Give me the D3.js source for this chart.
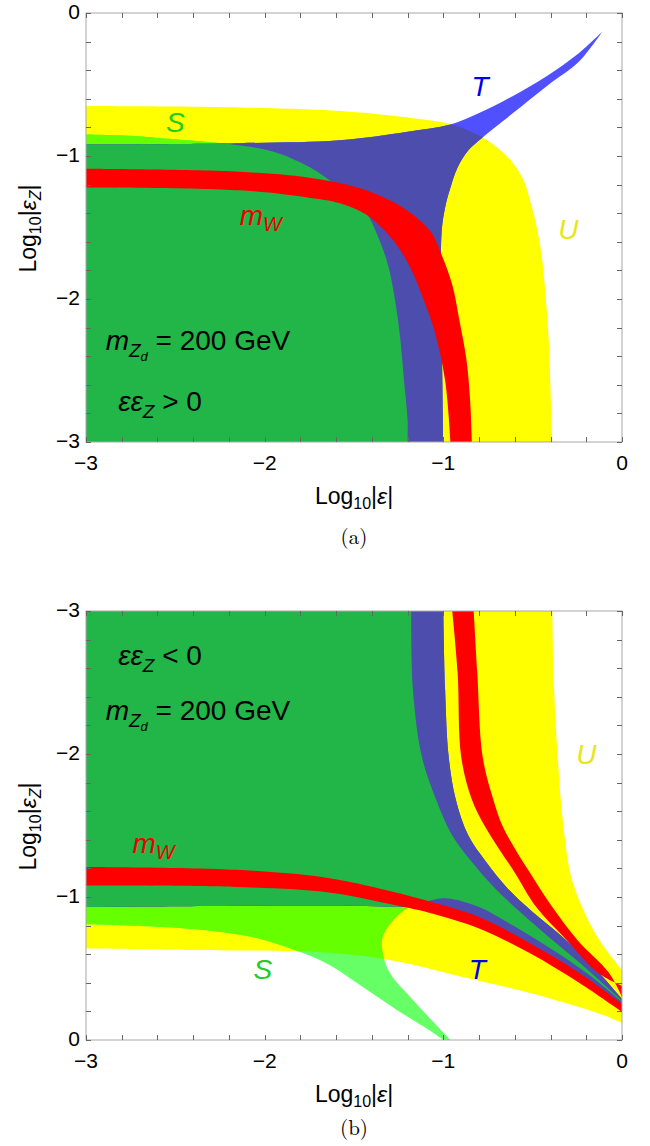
<!DOCTYPE html>
<html><head><meta charset="utf-8">
<script src="https://cdn.jsdelivr.net/npm/d3@7"></script>
<style>body{margin:0;background:#fff}</style></head>
<body><script>
// ---------- DATA (log10 |eps|, log10 |eps_Z|) ----------
const xTicks = [-3, -2, -1, 0];
const xTickLabels = ['\u22123', '\u22122', '\u22121', '0'];
const yTicksA = [0, -1, -2, -3];
const yTickLabelsA = ['0', '\u22121', '\u22122', '\u22123'];
const yTicksB = [-3, -2, -1, 0];
const yTickLabelsB = ['\u22123', '\u22122', '\u22121', '0'];

// Panel (a): eps*epsZ > 0
const uCurveA = [[-3,-0.65],[-2.14,-0.66],[-1.52,-0.69],[-1.08,-0.75],[-0.95,-0.78],[-0.78,-0.87],[-0.68,-0.96],[-0.61,-1.05],[-0.55,-1.17],[-0.515,-1.31],[-0.48,-1.48],[-0.45,-1.69],[-0.43,-1.94],[-0.41,-2.29],[-0.40,-2.64],[-0.39,-3]];
const sCurveA = [[-3,-0.85],[-2.73,-0.86],[-2.54,-0.88],[-2.18,-0.92],[-1.95,-0.97],[-1.76,-1.07],[-1.67,-1.14],[-1.55,-1.26],[-1.43,-1.40],[-1.37,-1.55],[-1.31,-1.76],[-1.27,-2.01],[-1.24,-2.29],[-1.22,-2.57],[-1.20,-2.85],[-1.20,-3]];
const tUpperA = [[-3,-0.92],[-2.14,-0.91],[-1.58,-0.89],[-1.20,-0.83],[-0.96,-0.78],[-0.80,-0.70],[-0.61,-0.58],[-0.42,-0.44],[-0.24,-0.28],[-0.11,-0.13]];
const tLowerA = [[-0.11,-0.13],[-0.24,-0.34],[-0.42,-0.51],[-0.61,-0.70],[-0.78,-0.87],[-0.86,-0.96],[-0.92,-1.08],[-0.96,-1.22],[-0.99,-1.36],[-1.01,-1.54],[-1.01,-2.0],[-1.0,-3]];
const mwTopA = [[-3,-1.09],[-2.14,-1.11],[-1.76,-1.15],[-1.48,-1.22],[-1.30,-1.31],[-1.17,-1.41],[-1.07,-1.53],[-1.01,-1.69],[-0.95,-1.90],[-0.91,-2.15],[-0.87,-2.43],[-0.85,-2.71],[-0.84,-3]];
const mwBottomA = [[-3,-1.22],[-2.14,-1.24],[-1.76,-1.29],[-1.58,-1.33],[-1.43,-1.41],[-1.33,-1.52],[-1.24,-1.66],[-1.17,-1.82],[-1.13,-1.94],[-1.05,-2.22],[-0.99,-2.57],[-0.96,-3]];

// Panel (b): eps*epsZ < 0
const uRightB = [[-0.39,-3],[-0.38,-2.45],[-0.36,-1.98],[-0.33,-1.52],[-0.28,-1.12],[-0.19,-0.84],[-0.10,-0.65],[0,-0.49]];
const uLowerB = [[0,-0.12],[-0.14,-0.19],[-0.52,-0.33],[-0.89,-0.44],[-1.26,-0.55],[-1.63,-0.61],[-2.44,-0.63],[-3,-0.64]];
const sRightB = [[-1.18,-3],[-1.17,-2.45],[-1.12,-1.98],[-1.04,-1.68],[-0.95,-1.43],[-0.84,-1.245],[-0.71,-1.06],[-0.57,-0.895],[-0.40,-0.71],[-0.20,-0.50],[0,-0.273]];
const sInnerB = [[0,-0.266],[-0.20,-0.47],[-0.40,-0.64],[-0.61,-0.80],[-0.80,-0.93],[-0.98,-0.99],[-1.09,-0.97],[-1.19,-0.93],[-1.28,-0.84],[-1.34,-0.72],[-1.34,-0.61],[-1.30,-0.47],[-1.17,-0.28],[-0.96,0]];
const sLowerB = [[-1.0,0],[-1.08,-0.07],[-1.26,-0.21],[-1.45,-0.37],[-1.63,-0.52],[-1.79,-0.61],[-2.07,-0.72],[-2.44,-0.78],[-3,-0.81]];
const tRightB = [[-1.0,-3],[-0.99,-2.45],[-0.97,-1.98],[-0.93,-1.68],[-0.86,-1.43],[-0.76,-1.245],[-0.64,-1.06],[-0.50,-0.895],[-0.35,-0.74],[-0.18,-0.54],[0,-0.287]];
const tLowerB = [[0,-0.238],[-0.24,-0.45],[-0.52,-0.66],[-0.80,-0.84],[-1.08,-0.93],[-1.19,-0.93],[-1.63,-0.94],[-3,-0.93]];
const mw1LeftB = [[-0.95,-3],[-0.92,-2.57],[-0.90,-1.98],[-0.84,-1.68],[-0.77,-1.50],[-0.69,-1.34],[-0.60,-1.17],[-0.48,-0.93],[-0.31,-0.70],[-0.134,-0.47],[0,-0.378]];
const mw1RightB = [[0,-0.301],[-0.073,-0.47],[-0.25,-0.70],[-0.39,-0.93],[-0.515,-1.17],[-0.60,-1.34],[-0.67,-1.50],[-0.72,-1.68],[-0.78,-1.98],[-0.81,-2.57],[-0.83,-3]];
const mw2TopB = [[-3,-1.21],[-2.16,-1.19],[-1.63,-1.13],[-1.26,-1.03],[-1.08,-0.97],[-0.80,-0.86],[-0.52,-0.68],[-0.24,-0.47],[0,-0.252]];
const mw2BottomB = [[0,-0.196],[-0.24,-0.40],[-0.52,-0.61],[-0.80,-0.78],[-1.08,-0.89],[-1.26,-0.94],[-1.63,-1.03],[-2.16,-1.07],[-3,-1.08]];

// ---------- STYLE ----------
const W = 650, H = 1146;
const FONT = '"Liberation Sans", Arial, Helvetica, sans-serif';
const C = {yellow:'#FFFF00', lime:'#66FF00', lightgreen:'#66FF66', blue:'#5050FF',
           darkblue:'#4D4DAE', darkgreen:'#22B548', red:'#FF0000'};

const svg = d3.select('body').append('svg').attr('width', W).attr('height', H)
  .style('display','block').style('background','#fff');
const defs = svg.append('defs');

function regionPath(segs, sx, sy) {
  const line = d3.line().x(d => sx(d[0])).y(d => sy(d[1])).curve(d3.curveCatmullRom.alpha(0.5));
  let d = '';
  segs.forEach((seg, i) => {
    if (seg.length === 1) { d += (i ? 'L' : 'M') + sx(seg[0][0]) + ',' + sy(seg[0][1]); return; }
    let p = line(seg);
    if (i > 0) p = 'L' + p.slice(1);
    d += p;
  });
  return d + 'Z';
}

function rich(g, x, y, parts, color, anchor) {
  const t = g.append('text').attr('x', x).attr('y', y).attr('fill', color)
    .attr('font-family', FONT).attr('text-anchor', anchor || 'start');
  parts.forEach(p => t.append('tspan').text(p.t).attr('font-size', p.s)
    .attr('font-style', p.i ? 'italic' : 'normal').attr('dy', p.dy || 0));
  return t;
}

function drawPanel(cfg) {
  const L = 86, R = 622;
  const x = d3.scaleLinear().domain([-3, 0]).range([L, R]);
  const y = d3.scaleLinear().domain(cfg.yDomain).range([cfg.top, cfg.bottom]);
  const id = cfg.id;
  const pU = regionPath(cfg.U, x, y), pS = regionPath(cfg.S, x, y), pT = regionPath(cfg.T, x, y);
  defs.append('clipPath').attr('id', id + 'plot').append('rect')
    .attr('x', L).attr('y', cfg.top).attr('width', R - L).attr('height', cfg.bottom - cfg.top);
  defs.append('clipPath').attr('id', id + 'u').append('path').attr('d', pU);
  defs.append('clipPath').attr('id', id + 't').append('path').attr('d', pT);

  const g = svg.append('g').attr('clip-path', `url(#${id}plot)`);
  g.append('path').attr('d', pU).attr('fill', C.yellow);
  g.append('path').attr('d', pS).attr('fill', C.lightgreen);
  g.append('g').attr('clip-path', `url(#${id}u)`).append('path').attr('d', pS).attr('fill', C.lime);
  g.append('path').attr('d', pT).attr('fill', C.blue);
  g.append('g').attr('clip-path', `url(#${id}u)`).append('path').attr('d', pT).attr('fill', C.darkblue);
  g.append('g').attr('clip-path', `url(#${id}u)`).append('g').attr('clip-path', `url(#${id}t)`)
    .append('path').attr('d', pS).attr('fill', C.darkgreen);
  cfg.MW.forEach(b => g.append('path').attr('d', regionPath(b, x, y)).attr('fill', C.red));

  // labels
  const lab = cfg.labels;
  rich(g, x(lab.S[0]), y(lab.S[1]), [{t:'S', s:28, i:1}], '#22CC22', 'middle');
  rich(g, x(lab.T[0]), y(lab.T[1]), [{t:'T', s:28, i:1}], '#0000EE', 'middle');
  rich(g, x(lab.U[0]), y(lab.U[1]), [{t:'U', s:28, i:1}], '#E6E61A', 'middle');
  rich(g, x(lab.MW[0]), y(lab.MW[1]), [{t:'m', s:28, i:1}, {t:'W', s:20, i:1, dy:6}], '#EE0000');
  rich(g, x(lab.MZ[0]), y(lab.MZ[1]), [{t:'m', s:28, i:1}, {t:'Z', s:19, i:1, dy:7},
    {t:'d', s:13, i:1, dy:4}, {t:' = 200 GeV', s:28, dy:-11}], '#000');
  rich(g, x(lab.EE[0]), y(lab.EE[1]), [{t:'\u03B5\u03B5', s:28, i:1}, {t:'Z', s:19, i:1, dy:7},
    {t: cfg.sign, s:28, dy:-7}], '#000');

  // frame & ticks
  svg.append('rect').attr('x', L).attr('y', cfg.top).attr('width', R - L).attr('height', cfg.bottom - cfg.top)
    .attr('fill', 'none').attr('stroke', '#a8a8a8').attr('stroke-width', 1);
  const minor = d3.range(-3, 0.0001, 0.2);
  const tk = svg.append('g').attr('stroke', '#666').attr('stroke-width', 1);
  minor.forEach(v => {
    const px = Math.round(x(v)) + 0.5, py = Math.round(y(v)) + 0.5;
    tk.append('line').attr('x1', px).attr('x2', px).attr('y1', cfg.bottom).attr('y2', cfg.bottom - 5);
    tk.append('line').attr('x1', px).attr('x2', px).attr('y1', cfg.top).attr('y2', cfg.top + 5);
    tk.append('line').attr('y1', py).attr('y2', py).attr('x1', L).attr('x2', L + 5);
    tk.append('line').attr('y1', py).attr('y2', py).attr('x1', R).attr('x2', R - 5);
  });
  xTicks.forEach((v, i) => svg.append('text').attr('x', x(v)).attr('y', cfg.bottom + 28)
    .attr('text-anchor', 'middle').attr('font-family', FONT).attr('font-size', 21).text(xTickLabels[i]));
  cfg.yTicks.forEach((v, i) => svg.append('text').attr('x', 80).attr('y', y(v)).attr('dy', '0.3em')
    .attr('text-anchor', 'end').attr('font-family', FONT).attr('font-size', 21).text(cfg.yTickLabels[i]));

  // axis titles
  rich(svg, (L + R) / 2, cfg.bottom + 62, [{t:'Log', s:23}, {t:'10', s:16, dy:5}, {t:'|', s:23, dy:-5},
    {t:'\u03B5', s:23, i:1}, {t:'|', s:23}], '#000', 'middle');
  const yt = rich(svg, 0, 0, [{t:'Log', s:23}, {t:'10', s:16, dy:5}, {t:'|', s:23, dy:-5},
    {t:'\u03B5', s:23, i:1}, {t:'Z', s:16, i:1, dy:5}, {t:'|', s:23, dy:-5}], '#000', 'middle');
  yt.attr('transform', `translate(36,${(cfg.top + cfg.bottom) / 2 + 1}) rotate(-90)`);
  // caption
  svg.append('text').attr('x', 354).attr('y', cfg.caption).attr('text-anchor', 'middle')
    .attr('font-family', '"Latin Modern Roman","Liberation Serif","DejaVu Serif",serif')
    .attr('font-size', 21).text(cfg.captionText);
}

drawPanel({
  id: 'pa', top: 13, bottom: 442, yDomain: [0, -3], yTicks: yTicksA, yTickLabels: yTickLabelsA,
  U: [uCurveA, [[-3, -3]]],
  S: [sCurveA, [[-3, -3]]],
  T: [tUpperA, tLowerA, [[-3, -3]]],
  MW: [[mwTopA, mwBottomA.slice().reverse()]],
  labels: {S:[-2.50,-0.83], T:[-0.795,-0.58], U:[-0.30,-1.58], MW:[-2.14,-1.48], MZ:[-2.89,-2.36], EE:[-2.82,-2.78]},
  sign: ' > 0', caption: 544, captionText: '(a)'
});
drawPanel({
  id: 'pb', top: 611, bottom: 1040, yDomain: [-3, 0], yTicks: yTicksB, yTickLabels: yTickLabelsB,
  U: [[[-3, -3]], uRightB, uLowerB],
  S: [[[-3, -3]], sRightB, sInnerB, sLowerB],
  T: [[[-3, -3]], tRightB, tLowerB],
  MW: [[mw1LeftB, mw1RightB], [mw2TopB, mw2BottomB]],
  labels: {S:[-2.01,-0.43], T:[-0.81,-0.43], U:[-0.20,-1.93], MW:[-2.74,-1.31], MZ:[-2.89,-2.24], EE:[-2.82,-2.62]},
  sign: ' < 0', caption: 1135, captionText: '(b)'
});
</script></body></html>
